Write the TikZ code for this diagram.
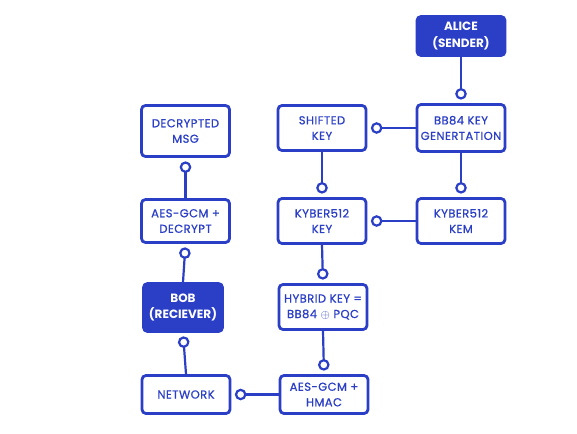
\documentclass[tikz,border=0pt]{standalone}
\usepackage{fontspec}
\setmainfont{Poppins}
\newfontfamily\boxfont{Poppins}[FakeBold=0.8, LetterSpace=4]
\usepackage{tikz}
\usetikzlibrary{arrows.meta}
\definecolor{flowblue}{HTML}{2B3FC6}

\begin{document}
\begin{tikzpicture}[x=1pt, y=-1pt, >={Circle[open, length=11.5pt, width=11.5pt, line width=2.2pt]},
  every node/.style={font=\boxfont\fontsize{11.5}{15.5}\selectfont, text=flowblue},
  box/.style={draw=flowblue, line width=2.8pt, rounded corners=4pt, fill=white,
              align=center, minimum width=88pt, minimum height=45pt, inner sep=1pt},
  actor/.style={box, fill=flowblue, text=white,
                font=\fontsize{12}{16.5}\selectfont\bfseries},
  link/.style={draw=flowblue, line width=2.2pt, ->, shorten >=3.5pt}]
  \useasboundingbox[fill=white] (0,0) rectangle (577,433);
  % Sender side
  \node[actor, minimum height=39pt]  (alice)   at (461, 36)  {ALICE\\(SENDER)};
  \node[box, minimum height=47pt]    (bb84)    at (461, 128) {BB84 KEY\\GENERTATION};
  \node[box]                         (kem)     at (461, 221) {KYBER512\\KEM};
  % Key mixing column
  \node[box]                         (shifted) at (322, 128) {SHIFTED\\KEY};
  \node[box]                         (kykey)   at (322, 221) {KYBER512\\KEY};
  \node[box]                         (hybrid)  at (323, 307) {HYBRID KEY =\\BB84 $\oplus$ PQC};
  \node[box, minimum height=38pt]    (hmac)    at (324, 394.5) {AES-GCM +\\HMAC};
  % Receiver side
  \node[box, minimum height=38pt]    (network) at (186, 394.5) {NETWORK};
  \node[actor, minimum width=79pt, minimum height=48pt] (bob) at (183, 307.5) {BOB\\(RECIEVER)};
  \node[box, minimum height=43pt]    (aesdec)  at (185.5, 221) {AES-GCM +\\DECRYPT};
  \node[box, minimum height=51pt]    (decmsg)  at (185.5, 131) {DECRYPTED\\MSG};
  % Connectors
  \draw[link] (alice.south)  -- (bb84.north);
  \draw[link] (bb84.south)   -- (kem.north);
  \draw[link] (bb84.west)    -- (shifted.east);
  \draw[link] (kem.west)     -- (kykey.east);
  \draw[link] (shifted.south) -- (kykey.north);
  \draw[link] (kykey.south)  -- (hybrid.north);
  \draw[link] (hybrid.south) -- (hmac.north);
  \draw[link] (hmac.west)    -- (network.east);
  \draw[link] (network.north) -- (bob.south);
  \draw[link] (bob.north)    -- (aesdec.south);
  \draw[link] (aesdec.north) -- (decmsg.south);
\end{tikzpicture}
\end{document}
